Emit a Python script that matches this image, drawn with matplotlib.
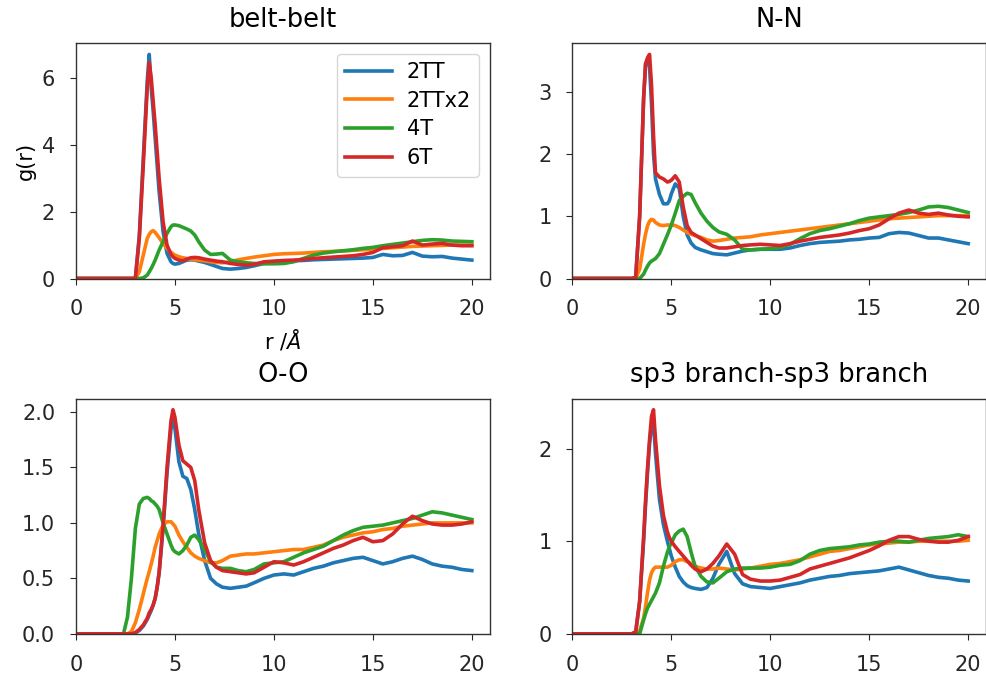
import numpy as np
import matplotlib.pyplot as plt

# radial grid (Angstrom), finer around the first coordination peaks
r = [0, 2.4, 2.6, 2.8, 3.0, 3.2, 3.4, 3.6, 3.7, 3.8, 3.9, 4.0, 4.1, 4.2, 4.4, 4.6,
     4.8, 4.9, 5.0, 5.2, 5.4, 5.6, 5.8, 6.0, 6.2, 6.5, 6.8, 7.1, 7.4, 7.8, 8.2, 8.6,
     9.0, 9.5, 10, 10.5, 11, 11.5, 12, 12.5, 13, 13.5, 14, 14.5, 15, 15.5, 16, 16.5,
     17, 17.5, 18, 18.5, 19, 19.5, 20]

systems = ['2TT', '2TTx2', '4T', '6T']
titles = ['belt-belt', 'N-N', 'O-O', 'sp3 branch-sp3 branch']

# belt-belt
belt_2TT = [0, 0, 0, 0, 0, 1.3, 3.6, 5.9, 6.7, 5.7, 5.0, 4.2, 3.4, 2.6, 1.4, 0.75,
            0.5, 0.45, 0.43, 0.45, 0.5, 0.55, 0.56, 0.55, 0.52, 0.48, 0.42, 0.36, 0.3, 0.28, 0.3, 0.33,
            0.38, 0.45, 0.5, 0.52, 0.53, 0.54, 0.56, 0.57, 0.58, 0.59, 0.6, 0.61, 0.63, 0.72, 0.68, 0.69,
            0.78, 0.67, 0.65, 0.66, 0.61, 0.58, 0.55]
belt_2TTx2 = [0, 0, 0, 0, 0, 0.2, 0.7, 1.2, 1.32, 1.4, 1.43, 1.38, 1.3, 1.22, 1.05, 0.9,
              0.78, 0.74, 0.7, 0.65, 0.62, 0.6, 0.58, 0.56, 0.55, 0.53, 0.5, 0.48, 0.47, 0.5, 0.56, 0.6,
              0.64, 0.68, 0.72, 0.74, 0.75, 0.76, 0.78, 0.8, 0.81, 0.82, 0.84, 0.86, 0.88, 0.9, 0.92, 0.94,
              0.96, 0.97, 0.98, 0.99, 1.0, 1.0, 1.0]
belt_4T = [0, 0, 0, 0, 0, 0, 0.02, 0.1, 0.2, 0.3, 0.42, 0.55, 0.7, 0.85, 1.1, 1.35,
           1.55, 1.6, 1.6, 1.58, 1.53, 1.48, 1.42, 1.3, 1.1, 0.85, 0.72, 0.73, 0.75, 0.55, 0.5, 0.47,
           0.45, 0.44, 0.44, 0.45, 0.5, 0.6, 0.7, 0.76, 0.8, 0.83, 0.86, 0.9, 0.93, 0.98, 1.02, 1.06,
           1.1, 1.14, 1.16, 1.15, 1.12, 1.11, 1.1]
belt_6T = [0, 0, 0, 0, 0, 1.2, 3.4, 5.7, 6.45, 6.0, 5.3, 4.6, 3.8, 3.0, 1.7, 1.0,
           0.72, 0.65, 0.6, 0.55, 0.53, 0.58, 0.62, 0.63, 0.62, 0.58, 0.55, 0.52, 0.5, 0.45, 0.42, 0.4,
           0.42, 0.5, 0.52, 0.54, 0.55, 0.57, 0.6, 0.62, 0.64, 0.66, 0.68, 0.72, 0.78, 0.92, 0.95, 0.98,
           1.12, 1.0, 1.03, 1.05, 1.0, 0.98, 0.98]

# N-N
nn_2TT = [0, 0, 0, 0, 0, 0.02, 1.0, 2.9, 3.45, 3.5, 3.4, 2.8, 2.0, 1.6, 1.35, 1.2,
          1.2, 1.25, 1.36, 1.52, 1.45, 1.0, 0.7, 0.57, 0.5, 0.46, 0.43, 0.4, 0.39, 0.38, 0.41, 0.44,
          0.46, 0.47, 0.47, 0.47, 0.49, 0.53, 0.56, 0.58, 0.59, 0.6, 0.62, 0.63, 0.65, 0.66, 0.72, 0.74,
          0.73, 0.69, 0.65, 0.65, 0.62, 0.59, 0.56]
nn_2TTx2 = [0, 0, 0, 0, 0, 0, 0.15, 0.55, 0.72, 0.85, 0.92, 0.95, 0.94, 0.9, 0.86, 0.85,
            0.86, 0.86, 0.86, 0.85, 0.82, 0.78, 0.74, 0.71, 0.69, 0.66, 0.62, 0.6, 0.61, 0.63, 0.65, 0.66,
            0.67, 0.7, 0.72, 0.74, 0.76, 0.78, 0.8, 0.82, 0.84, 0.86, 0.88, 0.9, 0.92, 0.94, 0.96, 0.97,
            0.98, 0.99, 1.0, 1.01, 1.01, 1.01, 1.01]
nn_4T = [0, 0, 0, 0, 0, 0, 0, 0.07, 0.14, 0.2, 0.25, 0.28, 0.3, 0.32, 0.4, 0.55,
         0.7, 0.78, 0.86, 1.05, 1.25, 1.32, 1.37, 1.35, 1.22, 1.05, 0.92, 0.82, 0.75, 0.71, 0.62, 0.47,
         0.46, 0.47, 0.48, 0.5, 0.55, 0.64, 0.72, 0.77, 0.8, 0.84, 0.88, 0.93, 0.97, 0.99, 1.01, 1.03,
         1.06, 1.1, 1.15, 1.16, 1.14, 1.1, 1.06]
nn_6T = [0, 0, 0, 0, 0, 0.02, 1.0, 2.9, 3.45, 3.55, 3.6, 3.1, 2.3, 1.7, 1.63, 1.6,
         1.55, 1.56, 1.58, 1.65, 1.55, 1.15, 0.85, 0.74, 0.7, 0.64, 0.58, 0.52, 0.49, 0.49, 0.51, 0.53,
         0.54, 0.55, 0.54, 0.53, 0.56, 0.6, 0.63, 0.66, 0.68, 0.7, 0.73, 0.77, 0.8, 0.86, 0.96, 1.05,
         1.1, 1.05, 1.03, 1.05, 1.02, 1.0, 0.99]

# O-O
oo_2TT = [0, 0, 0, 0, 0.01, 0.03, 0.07, 0.13, 0.17, 0.21, 0.26, 0.32, 0.42, 0.55, 0.95, 1.45,
          1.85, 1.93, 1.85, 1.55, 1.42, 1.4, 1.3, 1.12, 0.9, 0.66, 0.5, 0.45, 0.42, 0.41, 0.42, 0.43,
          0.46, 0.5, 0.53, 0.54, 0.53, 0.56, 0.59, 0.61, 0.64, 0.66, 0.68, 0.69, 0.66, 0.63, 0.65, 0.68,
          0.7, 0.67, 0.63, 0.61, 0.6, 0.58, 0.57]
oo_2TTx2 = [0, 0, 0, 0.02, 0.1, 0.22, 0.36, 0.5, 0.56, 0.63, 0.7, 0.78, 0.84, 0.9, 0.98, 1.01,
            1.01, 0.99, 0.97, 0.89, 0.83, 0.78, 0.73, 0.7, 0.68, 0.66, 0.64, 0.64, 0.66, 0.7, 0.71, 0.72,
            0.72, 0.73, 0.74, 0.75, 0.76, 0.76, 0.78, 0.8, 0.84, 0.87, 0.89, 0.91, 0.92, 0.94, 0.95, 0.97,
            0.98, 0.99, 1.0, 1.0, 1.0, 1.0, 1.0]
oo_4T = [0, 0, 0.15, 0.5, 0.95, 1.17, 1.22, 1.23, 1.22, 1.2, 1.19, 1.17, 1.15, 1.12, 1.0, 0.9,
         0.8, 0.76, 0.74, 0.72, 0.75, 0.8, 0.87, 0.89, 0.85, 0.76, 0.65, 0.6, 0.59, 0.59, 0.57, 0.56,
         0.58, 0.63, 0.64, 0.65, 0.69, 0.73, 0.76, 0.79, 0.84, 0.89, 0.93, 0.96, 0.97, 0.98, 1.0, 1.02,
         1.04, 1.07, 1.1, 1.09, 1.07, 1.05, 1.03]
oo_6T = [0, 0, 0, 0, 0.01, 0.04, 0.08, 0.14, 0.19, 0.22, 0.26, 0.32, 0.42, 0.55, 0.98, 1.5,
         1.92, 2.02, 1.95, 1.7, 1.56, 1.53, 1.5, 1.38, 1.12, 0.82, 0.66, 0.6, 0.57, 0.56, 0.55, 0.54,
         0.55, 0.6, 0.65, 0.64, 0.62, 0.65, 0.69, 0.73, 0.77, 0.8, 0.84, 0.87, 0.83, 0.84, 0.9, 0.99,
         1.06, 1.02, 0.99, 0.98, 0.98, 0.99, 1.01]

# sp3 branch-sp3 branch
sp3_2TT = [0, 0, 0, 0, 0, 0.02, 0.35, 1.0, 1.4, 1.75, 2.05, 2.25, 2.28, 1.95, 1.45, 1.18,
           1.0, 0.92, 0.84, 0.72, 0.62, 0.56, 0.52, 0.5, 0.49, 0.48, 0.5, 0.6, 0.75, 0.89, 0.65, 0.54,
           0.51, 0.5, 0.49, 0.51, 0.53, 0.55, 0.58, 0.6, 0.62, 0.63, 0.65, 0.66, 0.67, 0.68, 0.7, 0.72,
           0.69, 0.66, 0.63, 0.61, 0.6, 0.58, 0.57]
sp3_2TTx2 = [0, 0, 0, 0, 0, 0, 0.03, 0.17, 0.3, 0.45, 0.58, 0.66, 0.7, 0.72, 0.72, 0.72,
             0.72, 0.73, 0.74, 0.78, 0.8, 0.8, 0.78, 0.76, 0.73, 0.71, 0.7, 0.7, 0.71, 0.7, 0.69, 0.7,
             0.71, 0.73, 0.75, 0.76, 0.78, 0.8, 0.83, 0.86, 0.89, 0.9, 0.92, 0.94, 0.96, 0.97, 0.98, 0.99,
             0.99, 1.0, 1.0, 1.0, 1.0, 1.0, 1.01]
sp3_4T = [0, 0, 0, 0, 0, 0, 0, 0.15, 0.22, 0.28, 0.32, 0.36, 0.4, 0.44, 0.55, 0.73,
          0.88, 0.94, 0.98, 1.07, 1.11, 1.13, 1.05, 0.88, 0.73, 0.62, 0.56, 0.55, 0.6, 0.67, 0.7, 0.71,
          0.71, 0.71, 0.72, 0.74, 0.75, 0.79, 0.86, 0.9, 0.92, 0.93, 0.94, 0.96, 0.97, 0.99, 1.0, 1.0,
          0.99, 1.01, 1.03, 1.04, 1.05, 1.07, 1.05]
sp3_6T = [0, 0, 0, 0, 0, 0.02, 0.35, 1.05, 1.45, 1.8, 2.1, 2.35, 2.42, 2.1, 1.6, 1.28,
          1.1, 1.04, 1.0, 0.94, 0.89, 0.84, 0.79, 0.74, 0.7, 0.67, 0.7, 0.76, 0.84, 0.97, 0.86, 0.64,
          0.59, 0.57, 0.57, 0.58, 0.61, 0.64, 0.7, 0.73, 0.76, 0.79, 0.82, 0.86, 0.9, 0.95, 1.01, 1.05,
          1.05, 1.02, 1.0, 0.99, 0.99, 1.01, 1.05]

panels = [
    [belt_2TT, belt_2TTx2, belt_4T, belt_6T],
    [nn_2TT, nn_2TTx2, nn_4T, nn_6T],
    [oo_2TT, oo_2TTx2, oo_4T, oo_6T],
    [sp3_2TT, sp3_2TTx2, sp3_4T, sp3_6T],
]
yticks = [[0, 2, 4, 6], [0, 1, 2, 3], [0.0, 0.5, 1.0, 1.5, 2.0], [0, 1, 2]]
colors = ['#1f77b4', '#ff7f0e', '#2ca02c', '#d62728']

plt.rcParams['font.family'] = 'DejaVu Sans'
plt.rcParams['font.size'] = 15
plt.rcParams['axes.edgecolor'] = '#333333'
plt.rcParams['axes.linewidth'] = 1.0
plt.rcParams['xtick.color'] = '#262626'
plt.rcParams['ytick.color'] = '#262626'
plt.rcParams['xtick.major.size'] = 4
plt.rcParams['ytick.major.size'] = 4
plt.rcParams['xtick.major.pad'] = 11
plt.rcParams['ytick.major.pad'] = 11

fig, axes = plt.subplots(2, 2, figsize=(9.87, 6.75), dpi=100)
fig.subplots_adjust(left=0.077, right=0.999, bottom=0.061, top=0.936,
                    wspace=0.2, hspace=0.51)

for ax, curves, title, yt in zip(axes.flat, panels, titles, yticks):
    for g, name, c in zip(curves, systems, colors):
        ax.plot(r, g, color=c, lw=2.6, label=name)
    ax.set_title(title, fontsize=18.5, pad=12)
    ax.set_xlim(0, 20.9)
    ax.set_ylim(bottom=0)
    ax.set_xticks([0, 5, 10, 15, 20])
    ax.set_yticks(yt)
    if title == 'O-O':
        ax.set_yticklabels(['%.1f' % v for v in yt])

axes[0, 0].set_ylabel('g(r)')
axes[0, 0].set_xlabel(r'r /$\AA$', labelpad=6)
axes[0, 0].legend(loc='upper right', handlelength=2.25, handletextpad=0.7,
                  labelspacing=0.42)

plt.savefig('out.png', dpi=100)
